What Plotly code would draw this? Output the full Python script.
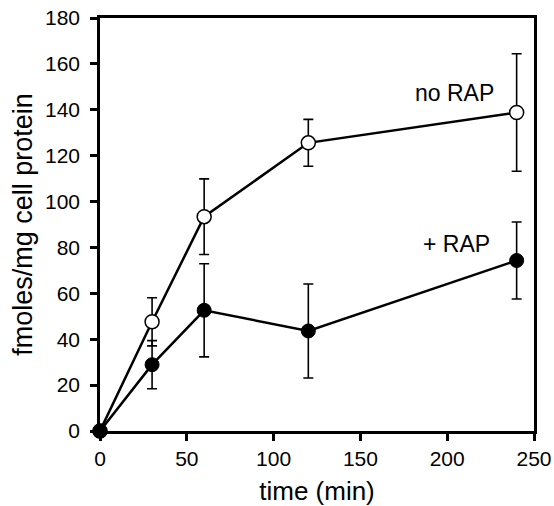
import plotly.graph_objects as go

time = [0, 30, 60, 120, 240]
no_rap = [0, 47.6, 93.4, 125.6, 138.8]
no_rap_err = [0, 10.5, 16.5, 10.2, 25.6]
plus_rap = [0, 28.9, 52.6, 43.6, 74.3]
plus_rap_err = [0, 10.5, 20.3, 20.5, 16.8]

font = "Liberation Sans, Arial, sans-serif"

fig = go.Figure()
fig.add_trace(go.Scatter(
    x=time, y=no_rap, mode="lines+markers", name="no RAP",
    line=dict(color="black", width=2.5),
    marker=dict(symbol="circle", size=14, color="white", line=dict(color="black", width=1.5)),
    error_y=dict(type="data", array=no_rap_err, visible=True, color="black", thickness=1.6, width=5),
    cliponaxis=False,
))
fig.add_trace(go.Scatter(
    x=time, y=plus_rap, mode="lines+markers", name="+ RAP",
    line=dict(color="black", width=2.5),
    marker=dict(symbol="circle", size=14, color="black", line=dict(color="black", width=1)),
    error_y=dict(type="data", array=plus_rap_err, visible=True, color="black", thickness=1.6, width=5),
    cliponaxis=False,
))

fig.add_annotation(x=204, y=147.3, text="no RAP", showarrow=False, font=dict(size=23, color="black", family=font))
fig.add_annotation(x=205.4, y=81.5, text="+ RAP", showarrow=False, font=dict(size=23, color="black", family=font))

fig.update_layout(
    width=554, height=506,
    margin=dict(l=100, r=20, t=18, b=75),
    plot_bgcolor="white", paper_bgcolor="white",
    showlegend=False,
    font=dict(family=font, color="black", size=21),
)
fig.update_xaxes(
    range=[0, 250], tickvals=[0, 50, 100, 150, 200, 250],
    showline=True, linecolor="black", linewidth=2.5, mirror=True,
    ticks="outside", ticklen=7, tickwidth=2.5, tickcolor="black",
    showgrid=False, zeroline=False, automargin=False,
    title=dict(text="time (min)", font=dict(size=26), standoff=14),
    tickfont=dict(size=21),
)
fig.update_yaxes(
    range=[0, 180], tickvals=list(range(0, 181, 20)),
    showline=True, linecolor="black", linewidth=2.5, mirror=True,
    ticks="outside", ticklen=7, tickwidth=2.5, tickcolor="black",
    showgrid=False, zeroline=False, automargin=False,
    ticklabelstandoff=6,
    title=dict(text="fmoles/mg cell protein", font=dict(size=27), standoff=5),
    tickfont=dict(size=21),
)

fig.write_html("out.html", config={"displayModeBar": False},
               post_script="document.body.style.margin='0';")
